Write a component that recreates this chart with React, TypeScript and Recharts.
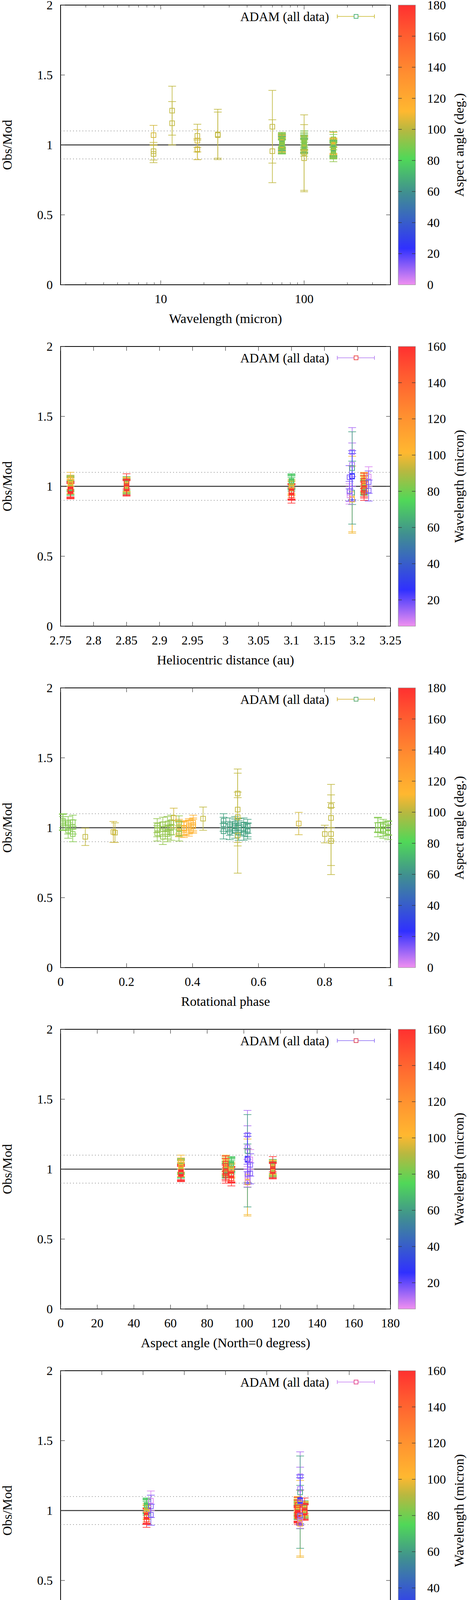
import React from 'react';
import { ScatterChart, Scatter, XAxis, YAxis, ErrorBar, ReferenceLine, ReferenceArea } from 'recharts';

// observing epochs: heliocentric distance (au), aspect angle (deg), phase angle (deg)
const epochHelio = [2.765, 2.85, 3.1, 3.21, 3.192, 3.188, 3.217];
const epochAspect = [65.7, 115.8, 93.2, 90.1, 102.0, 102.0, 103.5];
const epochPhase = [17.5, 19.2, -19.15, 17.5, 18.1, 18.1, -18.1];

// one entry per observation
const obsEpoch = [
  0, 0, 0, 0, 0, 0, 0, 0, 0, 0, 0, 0, 0, 0, 0, 0, 0, 0,
  1, 1, 1, 1, 1, 1, 1, 1, 1, 1, 1, 1,
  2, 2, 2, 2, 2, 2, 2, 2, 2, 2, 2, 2, 2, 2, 2,
  3, 3, 3, 3, 3, 3, 3, 3, 3, 3, 3, 3, 3, 3, 3, 3, 3, 3,
  4, 4, 4, 4, 4, 4, 4, 4,
  5, 5, 5, 5,
  6, 6, 6,
];
const obsWavelength = [
  70, 100, 160, 70, 100, 160, 70, 100, 160, 70, 100, 160, 70, 100, 160, 70, 100, 160,
  70, 100, 160, 70, 100, 160, 70, 100, 160, 70, 100, 160,
  70, 100, 160, 70, 100, 160, 70, 100, 160, 70, 100, 160, 70, 100, 160,
  70, 100, 160, 70, 100, 160, 70, 100, 160, 70, 100, 160, 70, 100, 160, 70, 100, 160,
  12, 60, 25, 100, 12, 25, 60, 100,
  8.9, 18, 8.9, 18,
  8.9, 18, 18,
];
const obsRotPhase = [
  0.494, 0.494, 0.494, 0.513, 0.513, 0.513, 0.529, 0.529, 0.529, 0.54, 0.54, 0.54, 0.555, 0.555, 0.555, 0.567, 0.567, 0.567,
  0.359, 0.359, 0.359, 0.374, 0.374, 0.374, 0.389, 0.389, 0.389, 0.402, 0.402, 0.402,
  0.293, 0.293, 0.293, 0.31, 0.31, 0.31, 0.324, 0.324, 0.324, 0.335, 0.335, 0.335, 0.359, 0.359, 0.359,
  0.007, 0.007, 0.007, 0.023, 0.023, 0.023, 0.037, 0.037, 0.037, 0.962, 0.962, 0.962, 0.978, 0.978, 0.978, 0.993, 0.993, 0.993,
  0.537, 0.537, 0.537, 0.537, 0.82, 0.82, 0.82, 0.82,
  0.075, 0.432, 0.801, 0.165,
  0.343, 0.722, 0.16,
];
const obsRatio = [
  1.025, 1.05, 0.975, 1.02, 0.995, 0.97, 1.01, 1.03, 0.98, 1.015, 1.0, 0.965, 0.99, 1.02, 0.965, 0.985, 1.01, 0.975,
  1.0, 1.01, 0.99, 0.995, 1.0, 0.985, 1.005, 1.015, 0.995, 1.02, 1.01, 1.035,
  1.015, 0.985, 0.96, 1.025, 0.99, 0.935, 1.03, 0.97, 0.955, 1.04, 1.0, 0.965, 1.035, 0.99, 0.96,
  1.03, 1.05, 1.04, 1.005, 1.03, 0.98, 1.005, 1.04, 0.955, 0.985, 1.02, 1.02, 0.99, 1.01, 0.98, 0.995, 1.0, 0.97,
  1.245, 1.13, 1.075, 0.945, 1.155, 1.07, 0.955, 0.905,
  0.935, 1.065, 0.955, 0.965,
  1.07, 1.03, 0.97,
];
const obsError = [
  0.05, 0.05, 0.055, 0.05, 0.05, 0.055, 0.05, 0.05, 0.055, 0.05, 0.05, 0.055, 0.05, 0.05, 0.055, 0.05, 0.05, 0.055,
  0.05, 0.05, 0.055, 0.05, 0.05, 0.055, 0.05, 0.05, 0.055, 0.05, 0.05, 0.055,
  0.05, 0.05, 0.055, 0.05, 0.05, 0.055, 0.05, 0.05, 0.055, 0.05, 0.05, 0.055, 0.05, 0.05, 0.055,
  0.05, 0.05, 0.055, 0.05, 0.05, 0.055, 0.05, 0.05, 0.055, 0.05, 0.05, 0.055, 0.05, 0.05, 0.055, 0.05, 0.05, 0.055,
  0.175, 0.26, 0.18, 0.27, 0.155, 0.165, 0.225, 0.24,
  0.062, 0.083, 0.063, 0.07,
  0.07, 0.08, 0.075,
];

// tick values
const yTicks = [0, 0.5, 1, 1.5, 2];
const wavelengthTicks = [3, 4, 5, 6, 7, 8, 9, 10, 20, 30, 40, 50, 60, 70, 80, 90, 100, 200, 300];
const wavelengthLabels = [10, 100];
const helioTicks = [2.75, 2.8, 2.85, 2.9, 2.95, 3, 3.05, 3.1, 3.15, 3.2, 3.25];
const rotTicks = [0, 0.2, 0.4, 0.6, 0.8, 1];
const aspectTicks = [0, 20, 40, 60, 80, 100, 120, 140, 160, 180];
const phaseTicks = [-40, -30, -20, -10, 0, 10, 20, 30, 40];
const cbAspectTicks = [0, 20, 40, 60, 80, 100, 120, 140, 160, 180];
const cbWavelengthTicks = [20, 40, 60, 80, 100, 120, 140, 160];

const FONT = '"Liberation Serif", "Times New Roman", serif';
const W = 1200;
const H = 874;
const PAGE_H = 4332;
const PLOT_L = 155;
const PLOT_T = 13;
const PLOT_W = 844;
const PLOT_H = 716;

const paletteStops: [number, number[]][] = [
  [0, [240, 144, 240]],
  [0.13, [48, 48, 255]],
  [0.33, [64, 144, 144]],
  [0.45, [80, 216, 88]],
  [0.555, [184, 184, 64]],
  [0.62, [255, 184, 48]],
  [0.75, [255, 144, 48]],
  [0.9, [255, 90, 48]],
  [1, [255, 48, 48]],
];

function paletteColor(t: number) {
  const v = Math.max(0, Math.min(1, Math.round(t * 64) / 64));
  for (let i = 1; i < paletteStops.length; i++) {
    const [p1, c1] = paletteStops[i];
    const [p0, c0] = paletteStops[i - 1];
    if (v <= p1) {
      const f = (v - p0) / (p1 - p0);
      const c = c0.map((a, k) => Math.round(a + f * (c1[k] - a)));
      return `rgb(${c[0]},${c[1]},${c[2]})`;
    }
  }
  return 'rgb(255,48,48)';
}

function XTick(props: any) {
  const { x, y, payload, labels } = props;
  const v = payload.value;
  const major = labels ? labels.includes(v) : true;
  const len = major ? 11 : 6;
  return (
    <g>
      <line x1={x} y1={y} x2={x} y2={y - len} stroke="#444" strokeWidth={1.3} />
      <line x1={x} y1={y - PLOT_H} x2={x} y2={y - PLOT_H + len} stroke="#444" strokeWidth={1.3} />
      {major && (
        <text x={x} y={y + 47} textAnchor="middle" fontSize={32} fontFamily={FONT} fill="#000">
          {String(v)}
        </text>
      )}
    </g>
  );
}

function YTick(props: any) {
  const { x, y, payload } = props;
  return (
    <g>
      <line x1={x} y1={y} x2={x + 11} y2={y} stroke="#444" strokeWidth={1.3} />
      <line x1={x + PLOT_W} y1={y} x2={x + PLOT_W - 11} y2={y} stroke="#444" strokeWidth={1.3} />
      <text x={x - 20} y={y + 11} textAnchor="end" fontSize={32} fontFamily={FONT} fill="#000">
        {String(payload.value)}
      </text>
    </g>
  );
}

const openSquare = (color: string) => (p: any) => (
  <rect x={p.cx - 6} y={p.cy - 6} width={12} height={12} fill="none" stroke={color} strokeWidth={1.8} />
);

function groupByColor(xs: number[], cs: number[], cMin: number, cMax: number) {
  const groups = new Map<string, { x: number; y: number; err: number }[]>();
  obsRatio.forEach((r, i) => {
    const col = paletteColor((cs[i] - cMin) / (cMax - cMin));
    if (!groups.has(col)) groups.set(col, []);
    groups.get(col)!.push({ x: xs[i], y: r, err: obsError[i] });
  });
  return [...groups.entries()];
}

const obsHelio = obsEpoch.map((e) => epochHelio[e]);
const obsAspect = obsEpoch.map((e) => epochAspect[e]);
const obsPhase = obsEpoch.map((e) => epochPhase[e]);

type Panel = {
  xs: number[];
  xDomain: [number, number];
  log?: boolean;
  xTicks: number[];
  xLabels?: number[];
  xTitle: string;
  cs: number[];
  cDomain: [number, number];
  cTicks: number[];
  cTitle: string;
  legendLine: string;
  legendMark: string;
};

const panels: Panel[] = [
  {
    xs: obsWavelength, xDomain: [2, 400], log: true, xTicks: wavelengthTicks, xLabels: wavelengthLabels,
    xTitle: 'Wavelength (micron)', cs: obsAspect, cDomain: [0, 180], cTicks: cbAspectTicks,
    cTitle: 'Aspect angle (deg.)', legendLine: '#c9b92c', legendMark: '#38a868',
  },
  {
    xs: obsHelio, xDomain: [2.75, 3.25], xTicks: helioTicks, xTitle: 'Heliocentric distance (au)',
    cs: obsWavelength, cDomain: [5.5, 160], cTicks: cbWavelengthTicks, cTitle: 'Wavelength (micron)',
    legendLine: '#b27af2', legendMark: '#e83030',
  },
  {
    xs: obsRotPhase, xDomain: [0, 1], xTicks: rotTicks, xTitle: 'Rotational phase',
    cs: obsAspect, cDomain: [0, 180], cTicks: cbAspectTicks, cTitle: 'Aspect angle (deg.)',
    legendLine: '#d4b030', legendMark: '#48a060',
  },
  {
    xs: obsAspect, xDomain: [0, 180], xTicks: aspectTicks, xTitle: 'Aspect angle (North=0 degress)',
    cs: obsWavelength, cDomain: [5.5, 160], cTicks: cbWavelengthTicks, cTitle: 'Wavelength (micron)',
    legendLine: '#8a6af4', legendMark: '#d83048',
  },
  {
    xs: obsPhase, xDomain: [-40, 40], xTicks: phaseTicks, xTitle: 'Phase angle (degree)',
    cs: obsWavelength, cDomain: [5.5, 160], cTicks: cbWavelengthTicks, cTitle: 'Wavelength (micron)',
    legendLine: '#c67cf2', legendMark: '#e03080',
  },
];

function Overlay({ p, idx }: { p: Panel; idx: number }) {
  const cbX = 1019;
  const cbW = 44;
  const bottom = PLOT_T + PLOT_H;
  const gid = `cb${idx}`;
  const [cMin, cMax] = p.cDomain;
  return (
    <svg width={W} height={H} style={{ position: 'absolute', left: 0, top: 0, pointerEvents: 'none', overflow: 'visible' }}>
      <defs>
        <linearGradient id={gid} x1="0" y1="1" x2="0" y2="0">
          {paletteStops.map(([o, c]) => (
            <stop key={o} offset={o} stopColor={`rgb(${c[0]},${c[1]},${c[2]})`} />
          ))}
        </linearGradient>
      </defs>
      {/* legend */}
      <text x={842} y={54} textAnchor="end" fontSize={33} fontFamily={FONT}>ADAM (all data)</text>
      <line x1={863} y1={42} x2={958} y2={42} stroke={p.legendLine} strokeWidth={1.6} />
      <line x1={863} y1={37} x2={863} y2={47} stroke={p.legendLine} strokeWidth={1.6} />
      <line x1={958} y1={37} x2={958} y2={47} stroke={p.legendLine} strokeWidth={1.6} />
      <rect x={906} y={37} width={10} height={10} fill="#fff" stroke={p.legendMark} strokeWidth={1.6} />
      {/* axis titles */}
      <text x={PLOT_L + PLOT_W / 2} y={827} textAnchor="middle" fontSize={34} fontFamily={FONT}>{p.xTitle}</text>
      <text transform={`translate(30, ${PLOT_T + PLOT_H / 2}) rotate(-90)`} textAnchor="middle" fontSize={34} fontFamily={FONT}>Obs/Mod</text>
      {/* colour box */}
      <rect x={cbX} y={PLOT_T} width={cbW} height={PLOT_H} fill={`url(#${gid})`} stroke="#888" strokeWidth={1} />
      {p.cTicks.map((t) => {
        const ty = bottom - ((t - cMin) / (cMax - cMin)) * PLOT_H;
        return (
          <g key={t}>
            {t > cMin && t < cMax && (
              <>
                <line x1={cbX} y1={ty} x2={cbX + 9} y2={ty} stroke="#333" strokeWidth={1.2} />
                <line x1={cbX + cbW - 9} y1={ty} x2={cbX + cbW} y2={ty} stroke="#333" strokeWidth={1.2} />
              </>
            )}
            <text x={1093} y={ty + 11} fontSize={32} fontFamily={FONT}>{t}</text>
          </g>
        );
      })}
      <text transform={`translate(1186, ${PLOT_T + PLOT_H / 2}) rotate(-90)`} textAnchor="middle" fontSize={34} fontFamily={FONT}>{p.cTitle}</text>
    </svg>
  );
}

function PanelChart({ p, idx }: { p: Panel; idx: number }) {
  const groups = groupByColor(p.xs, p.cs, p.cDomain[0], p.cDomain[1]);
  return (
    <div style={{ position: 'relative', width: W, height: H }}>
      <ScatterChart width={W} height={H} margin={{ top: PLOT_T, right: W - PLOT_L - PLOT_W, bottom: 0, left: 0 }} style={{ overflow: 'visible' }}>
        <XAxis
          dataKey="x"
          type="number"
          scale={p.log ? 'log' : 'linear'}
          domain={p.xDomain}
          allowDataOverflow
          ticks={p.xTicks}
          interval={0}
          height={H - PLOT_T - PLOT_H}
          axisLine={false}
          tickLine={false}
          tickSize={0}
          tickMargin={0}
          tick={<XTick labels={p.xLabels} />}
        />
        <YAxis
          dataKey="y"
          type="number"
          domain={[0, 2]}
          allowDataOverflow
          ticks={yTicks}
          interval={0}
          width={PLOT_L}
          axisLine={false}
          tickLine={false}
          tickSize={0}
          tickMargin={0}
          tick={<YTick />}
        />
        <ReferenceLine y={1.1} stroke="#808080" strokeWidth={1.6} strokeDasharray="2 6" />
        <ReferenceLine y={0.9} stroke="#808080" strokeWidth={1.6} strokeDasharray="2 6" />
        <ReferenceLine y={1} stroke="#333" strokeWidth={2.4} />
        {groups.map(([col, data]) => (
          <Scatter key={col} data={data} isAnimationActive={false} shape={openSquare(col)}>
            <ErrorBar dataKey="err" direction="y" width={10} stroke={col} strokeWidth={1.6} isAnimationActive={false} />
          </Scatter>
        ))}
        <ReferenceArea x1={p.xDomain[0]} x2={p.xDomain[1]} y1={0} y2={2} fill="none" stroke="#000" strokeWidth={2} />
      </ScatterChart>
      <Overlay p={p} idx={idx} />
    </div>
  );
}

export default function App() {
  return (
    <div style={{ position: 'absolute', left: 0, top: 0, width: W, height: PAGE_H, overflow: 'hidden', background: '#fff', fontFamily: FONT }}>
      <style>{'.recharts-surface { overflow: visible; }'}</style>
      {panels.map((p, i) => (
        <PanelChart key={i} p={p} idx={i} />
      ))}
    </div>
  );
}
